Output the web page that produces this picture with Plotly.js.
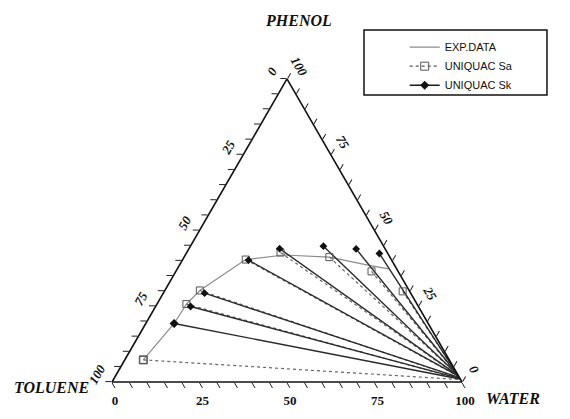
<!DOCTYPE html>
<html>
<head>
<meta charset="utf-8">
<script src="https://cdn.plot.ly/plotly-3.0.1.min.js"></script>
<style>
  html, body { margin: 0; padding: 0; background: #fff; }
  #chart { width: 570px; height: 419px; }
</style>
</head>
<body>
<div id="chart"></div>
<script>
// compositions in wt% (phenol / toluene / water)

// experimental binodal curve
const expPhenol  = [7.3, 19.3, 25.7, 30.2, 40.4, 41.9, 41.2, 38.5, 37.3];
const expToluene = [87.4, 72.6, 65.9, 59.8, 41.6, 29.9, 17.3, 7.3, 2.3];
const expWater   = [5.3, 8.1, 8.4, 10.0, 18.0, 28.2, 41.5, 54.2, 60.4];

// UNIQUAC Sa tie lines, organic phase end
const saOrgPhenol  = [7.3, 25.7, 30.2, 40.4, 42.7, 41.2, 36.5, 29.9];
const saOrgToluene = [87.4, 65.9, 59.8, 41.6, 30.5, 17.3, 7.6, 2.0];
const saOrgWater   = [5.3, 8.4, 10.0, 18.0, 26.8, 41.5, 55.9, 68.1];
// UNIQUAC Sa tie lines, aqueous phase end
const saAqPhenol  = [0.8, 1.0, 1.3, 1.8, 2.0, 2.4, 2.6, 3.0];
const saAqToluene = [0.1, 0.1, 0.1, 0.1, 0.1, 0.1, 0.1, 0.1];
const saAqWater   = [99.1, 98.9, 98.6, 98.1, 97.9, 97.5, 97.3, 96.9];

// UNIQUAC Sk tie lines, organic phase end
const skOrgPhenol  = [19.3, 24.9, 29.3, 40.2, 44.0, 44.8, 43.9, 42.4];
const skOrgToluene = [72.6, 65.1, 58.9, 40.9, 30.1, 17.2, 8.3, 2.4];
const skOrgWater   = [8.1, 10.0, 11.8, 18.9, 25.9, 38.0, 47.8, 55.2];
// UNIQUAC Sk tie lines, aqueous phase end
const skAqPhenol  = [1.0, 1.2, 1.5, 2.0, 2.2, 2.5, 2.8, 3.2];
const skAqToluene = [0.1, 0.1, 0.1, 0.1, 0.1, 0.1, 0.1, 0.1];
const skAqWater   = [98.9, 98.7, 98.4, 97.9, 97.7, 97.4, 97.1, 96.7];

// axis ticks every 5, labelled every 25 (labels read from the opposite corner)
const tickPos = [0, 5, 10, 15, 20, 25, 30, 35, 40, 45, 50, 55, 60, 65, 70, 75, 80, 85, 90, 95, 100];
const tickLabels = ['100', '', '', '', '', '75', '', '', '', '', '50', '', '', '', '', '25', '', '', '', '', '0'];

const serif = 'Liberation Serif, Times New Roman, serif';
const sans = 'Liberation Sans, Arial, sans-serif';

const traces = [];

traces.push({
  type: 'scatterternary', mode: 'lines', name: 'EXP.DATA',
  a: expPhenol, b: expToluene, c: expWater,
  line: { color: '#8c8c8c', width: 1.2 },
  hoverinfo: 'skip'
});

// legend carriers (single point each)
traces.push({
  type: 'scatterternary', mode: 'lines+markers', name: 'UNIQUAC Sa',
  a: [saOrgPhenol[0]], b: [saOrgToluene[0]], c: [saOrgWater[0]],
  line: { color: '#555', width: 1.2, dash: 'dot' },
  marker: { symbol: 'square-open', size: 8, color: '#555', line: { width: 1 } },
  hoverinfo: 'skip'
});
traces.push({
  type: 'scatterternary', mode: 'lines+markers', name: 'UNIQUAC Sk',
  a: [skOrgPhenol[0]], b: [skOrgToluene[0]], c: [skOrgWater[0]],
  line: { color: '#1a1a1a', width: 1.6 },
  marker: { symbol: 'diamond', size: 7, color: '#111' },
  hoverinfo: 'skip'
});

for (let i = 0; i < saOrgPhenol.length; i++) {
  traces.push({
    type: 'scatterternary', mode: 'lines', showlegend: false,
    a: [saOrgPhenol[i], saAqPhenol[i]],
    b: [saOrgToluene[i], saAqToluene[i]],
    c: [saOrgWater[i], saAqWater[i]],
    line: { color: '#666', width: 1.2, dash: 'dot' },
    hoverinfo: 'skip'
  });
}

for (let i = 0; i < skOrgPhenol.length; i++) {
  traces.push({
    type: 'scatterternary', mode: 'lines', showlegend: false,
    a: [skOrgPhenol[i], skAqPhenol[i]],
    b: [skOrgToluene[i], skAqToluene[i]],
    c: [skOrgWater[i], skAqWater[i]],
    line: { color: '#2a2a2a', width: 1.4 },
    hoverinfo: 'skip'
  });
}

traces.push({
  type: 'scatterternary', mode: 'markers', showlegend: false,
  a: saOrgPhenol, b: saOrgToluene, c: saOrgWater,
  marker: { symbol: 'square-open', size: 7, color: '#555', line: { width: 1 } },
  hoverinfo: 'skip'
});
traces.push({
  type: 'scatterternary', mode: 'markers', showlegend: false,
  a: skOrgPhenol, b: skOrgToluene, c: skOrgWater,
  marker: { symbol: 'diamond', size: 6, color: '#111' },
  hoverinfo: 'skip'
});

const axisBase = {
  tickmode: 'array', tickvals: tickPos, ticktext: tickLabels,
  ticks: 'outside', ticklen: 6, tickwidth: 1, tickcolor: '#222',
  showgrid: false, linecolor: '#111', linewidth: 1.6,
  title: { text: '' }
};

const layout = {
  width: 570, height: 419,
  margin: { l: 0, r: 0, t: 0, b: 0 },
  paper_bgcolor: '#fff',
  showlegend: true,
  ternary: {
    sum: 100,
    bgcolor: 'rgba(0,0,0,0)',
    domain: { x: [0.1965, 0.8105], y: [0.0883, 0.8117] },
    aaxis: Object.assign({}, axisBase, {
      tickangle: -60,
      tickfont: { family: serif, size: 13, color: '#111', weight: 'bold', style: 'italic' }
    }),
    baxis: Object.assign({}, axisBase, {
      tickfont: { family: serif, size: 13, color: '#111', weight: 'bold' }
    }),
    caxis: Object.assign({}, axisBase, {
      tickangle: 60,
      tickfont: { family: serif, size: 13, color: '#111', weight: 'bold', style: 'italic' }
    })
  },
  legend: {
    x: 0.71, y: 0.922, xanchor: 'left', yanchor: 'top',
    bgcolor: 'rgba(0,0,0,0)',
    font: { family: sans, size: 11, color: '#111' }
  },
  shapes: [{
    type: 'rect', xref: 'paper', yref: 'paper',
    x0: 0.6386, x1: 0.9596, y0: 0.7733, y1: 0.9284,
    line: { color: '#111', width: 1.5 }
  }],
  annotations: [
    { text: 'PHENOL', x: 0.523, y: 0.952, xref: 'paper', yref: 'paper', showarrow: false,
      xanchor: 'center', yanchor: 'middle',
      font: { family: serif, size: 16, color: '#111', weight: 'bold', style: 'italic' } },
    { text: 'TOLUENE', x: 0.091, y: 0.074, xref: 'paper', yref: 'paper', showarrow: false,
      xanchor: 'center', yanchor: 'middle',
      font: { family: serif, size: 16, color: '#111', weight: 'bold', style: 'italic' } },
    { text: 'WATER', x: 0.9, y: 0.05, xref: 'paper', yref: 'paper', showarrow: false,
      xanchor: 'center', yanchor: 'middle',
      font: { family: serif, size: 16, color: '#111', weight: 'bold', style: 'italic' } }
  ]
};

Plotly.newPlot('chart', traces, layout, { displayModeBar: false, staticPlot: true });
</script>
</body>
</html>
